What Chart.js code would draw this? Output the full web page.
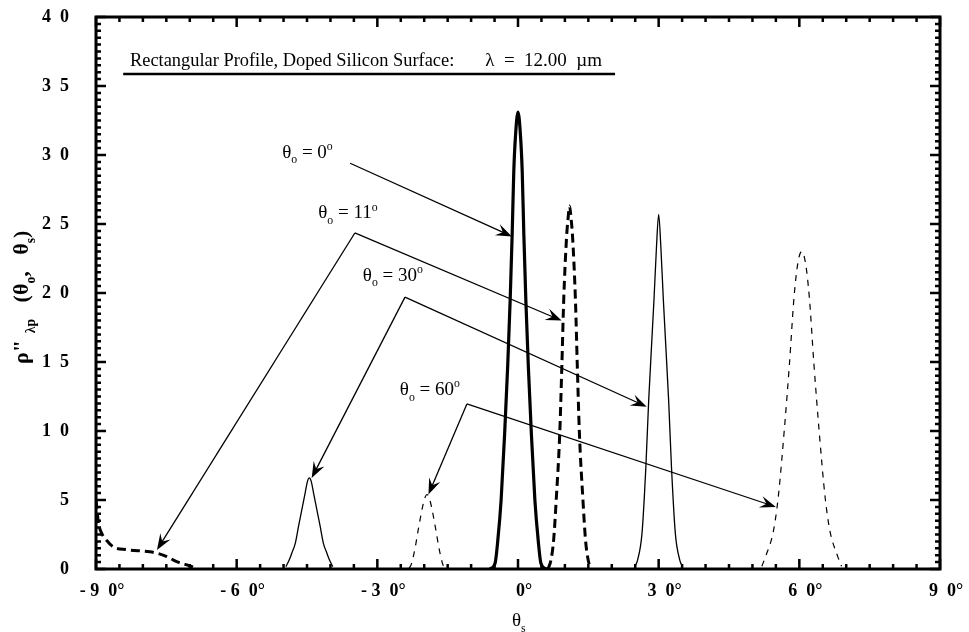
<!DOCTYPE html>
<html>
<head>
<meta charset="utf-8">
<script src="https://cdn.jsdelivr.net/npm/chart.js@4.4.1/dist/chart.umd.min.js"></script>
<style>
  html, body { margin: 0; padding: 0; background: #fff; }
  #wrap { width: 969px; height: 632px; position: relative; }
</style>
</head>
<body>
<div id="wrap"><canvas id="chart"></canvas></div>
<script>
// axis ticks (en spaces between digits, as in the original artwork)
const xTickValues = [-90, -60, -30, 0, 30, 60, 90]
const xTickLabels = ['- 9\u20020°', '- 6\u20020°', '- 3\u20020°', '0°', '3\u20020°', '6\u20020°', '9\u20020°']
const yTickValues = [0, 5, 10, 15, 20, 25, 30, 35, 40]
const yTickLabels = ['0', '5', '1\u20020', '1\u20025', '2\u20020', '2\u20025', '3\u20020', '3\u20025', '4\u20020']

// theta_o = 0 (thick solid)
const t0Angles = [-6, -4.9, -4.3, -3.6, -2.85, -2.2, -1.67, -1.24, -0.9, -0.55, 0, 0.55, 0.9, 1.24, 1.67, 2.2, 2.85, 3.6, 4.3, 4.9, 6]
const t0Values = [0, 0.4, 2.1, 5.0, 9.8, 14.7, 19.5, 24.3, 28.8, 31.3, 33.1, 31.3, 28.8, 24.3, 19.5, 14.7, 9.8, 5.0, 2.1, 0.4, 0]

// theta_o = 11 (thick dashed): grazing part and specular peak
const t11BackAngles = [-90, -89.5, -88.8, -87.8, -86.3, -83.4, -78.5, -76.5, -74.9, -72.8, -70.6, -69]
const t11BackValues = [5.0, 3.4, 2.6, 2.1, 1.6, 1.4, 1.25, 1.1, 0.9, 0.53, 0.3, 0.1]
const t11Angles = [6.4, 7.0, 7.6, 8.15, 8.9, 9.35, 9.75, 10.35, 10.65, 11, 11.35, 11.65, 12.25, 12.65, 13.1, 13.85, 14.4, 15.0, 15.6]
const t11Values = [0, 0.6, 2.1, 5.0, 9.8, 14.7, 19.5, 24.0, 25.3, 26.3, 25.3, 24.0, 19.5, 14.7, 9.8, 5.0, 2.1, 0.6, 0]

// theta_o = 30 (thin solid)
const t30LowAngles = [-49.5, -48.8, -48.25, -47.5, -46.8, -46.1, -45.4, -44.9, -44.5, -44.1, -43.6, -42.9, -42.2, -41.5, -40.75, -40.2, -39.5]
const t30LowValues = [0.17, 0.65, 1.14, 1.86, 3.1, 4.3, 5.5, 6.35, 6.6, 6.35, 5.5, 4.3, 3.1, 1.86, 1.14, 0.65, 0.17]
const t30Angles = [24.9, 25.5, 26.45, 27.27, 27.87, 29.0, 29.5, 30, 30.5, 31.0, 32.13, 32.73, 33.55, 34.5, 35.1]
const t30Values = [0.17, 0.65, 2.6, 7.4, 12.2, 19.5, 23.1, 25.7, 23.1, 19.5, 12.2, 7.4, 2.6, 0.65, 0.17]

// theta_o = 60 (thin dashed)
const t60LowAngles = [-23.2, -22.7, -21.9, -21.3, -20.0, -19.4, -18.8, -17.5, -16.9, -16.1, -15.6]
const t60LowValues = [0.05, 0.4, 1.6, 2.8, 5.0, 5.4, 5.0, 2.8, 1.6, 0.4, 0.05]
const t60Angles = [52.0, 52.8, 54.5, 55.5, 56.8, 57.9, 58.87, 59.7, 60.5, 61.3, 62.13, 63.1, 64.2, 65.5, 66.5, 68.2, 69.0]
const t60Values = [0.2, 0.9, 2.8, 5.2, 10.1, 14.9, 19.7, 22.2, 23.0, 22.2, 19.7, 14.9, 10.1, 5.2, 2.8, 0.9, 0.2]

const FONT = '"Liberation Serif", "Times New Roman", serif'

const seg = (angles, values) => angles.map((a, i) => ({ x: a, y: values[i] }))
const join = (...parts) => parts.reduce((acc, p, i) => {
  if (i > 0) acc.push({ x: p[0].x - 1, y: null })
  return acc.concat(p)
}, [])

// labels and arrows, positions given in data units (angle, value)
const annotations = [
  { text: '0', at: [-50.3, 29.8], from: [-35.8, 29.4], to: [[-1.3, 24.1]] },
  { text: '11', at: [-42.6, 25.4], from: [-34.8, 24.35], to: [[-77.0, 1.38], [9.3, 18.0]] },
  { text: '30', at: [-33.1, 20.9], from: [-24.1, 19.7], to: [[-44.0, 6.6], [27.45, 11.76]] },
  { text: '60', at: [-25.2, 12.6], from: [-10.9, 11.96], to: [[-19.1, 5.4], [55.0, 4.5]] }
]

function drawRich (ctx, x, y, parts, size, weight) {
  let cx = x
  parts.forEach(([t, k]) => {
    const small = k === 'sub' || k === 'sup'
    const s = small ? size * 0.62 : size
    const dy = k === 'sub' ? size * 0.3 : k === 'sup' ? -size * 0.42 : 0
    ctx.font = `${weight} ${s}px ${FONT}`
    ctx.fillText(t, cx, y + dy)
    cx += ctx.measureText(t).width
  })
  return cx
}

function arrow (ctx, x0, y0, x1, y1) {
  const ang = Math.atan2(y1 - y0, x1 - x0)
  const dx = Math.cos(ang)
  const dy = Math.sin(ang)
  const L = 16
  const W = 6
  ctx.beginPath()
  ctx.moveTo(x0, y0)
  ctx.lineTo(x1 - dx * 6, y1 - dy * 6)
  ctx.stroke()
  ctx.beginPath()
  ctx.moveTo(x1, y1)
  ctx.lineTo(x1 - dx * L - dy * W, y1 - dy * L + dx * W)
  ctx.lineTo(x1 - dx * L * 0.62, y1 - dy * L * 0.62)
  ctx.lineTo(x1 - dx * L + dy * W, y1 - dy * L - dx * W)
  ctx.closePath()
  ctx.fill()
}

const decorations = {
  id: 'decorations',
  afterDraw (chart) {
    const { ctx, chartArea: a } = chart
    const xs = chart.scales.x
    const ys = chart.scales.y
    const px = v => xs.getPixelForValue(v)
    const py = v => ys.getPixelForValue(v)
    ctx.save()
    ctx.strokeStyle = '#000'
    ctx.fillStyle = '#000'

    // frame
    ctx.lineWidth = 3
    ctx.strokeRect(a.left, a.top, a.right - a.left, a.bottom - a.top)

    // inward ticks
    ctx.lineWidth = 2.5
    ctx.beginPath()
    for (let d = -90; d <= 90; d += 5) {
      const x = px(d)
      const len = d % 30 === 0 ? 10 : 5
      ctx.moveTo(x, a.bottom); ctx.lineTo(x, a.bottom - len)
      ctx.moveTo(x, a.top); ctx.lineTo(x, a.top + len)
    }
    for (let v = 0; v <= 40; v += 0.5) {
      const y = py(v)
      const len = v % 5 === 0 ? 10 : 5
      ctx.moveTo(a.left, y); ctx.lineTo(a.left + len, y)
      ctx.moveTo(a.right, y); ctx.lineTo(a.right - len, y)
    }
    ctx.stroke()

    // heading with underline
    ctx.textBaseline = 'alphabetic'
    ctx.textAlign = 'left'
    drawRich(ctx, px(-82.75), py(36.45), [['Rectangular Profile, Doped Silicon Surface:', '']], 18.4, 'normal')
    drawRich(ctx, px(-7.0), py(36.45), [['λ  =  12.00  µm', '']], 19, 'normal')
    ctx.lineWidth = 2.5
    ctx.beginPath()
    ctx.moveTo(px(-84.2), py(35.87))
    ctx.lineTo(px(20.7), py(35.87))
    ctx.stroke()

    // angle labels with arrows
    ctx.lineWidth = 1.3
    annotations.forEach(an => {
      drawRich(ctx, px(an.at[0]), py(an.at[1]),
        [['θ', ''], ['o', 'sub'], [' = ' + an.text, ''], ['o', 'sup']], 19, 'normal')
      an.to.forEach(t => arrow(ctx, px(an.from[0]), py(an.from[1]), px(t[0]), py(t[1])))
    })

    // x axis title
    const xc = px(0)
    drawRich(ctx, xc - 6, 626, [['θ', ''], ['s', 'sub']], 19, 'normal')

    // y axis title
    ctx.save()
    ctx.translate(28, 364)
    ctx.rotate(-Math.PI / 2)
    drawRich(ctx, 0, 0, [['ρ"', ''], ['  λp', 'sub'], ['   (θ', ''], ['o', 'sub'], [',   θ', ''], ['s', 'sub'], [')', '']], 22, 'bold')
    ctx.restore()

    ctx.restore()
  }
}

const lineStyle = {
  showLine: true,
  pointRadius: 0,
  borderColor: '#000',
  backgroundColor: '#000',
  fill: false,
  spanGaps: false,
  cubicInterpolationMode: 'monotone'
}

new Chart(document.getElementById('chart'), {
  type: 'scatter',
  data: {
    datasets: [
      { ...lineStyle, label: 'θo = 0°', data: seg(t0Angles, t0Values), borderWidth: 3.2 },
      { ...lineStyle, label: 'θo = 11°', data: join(seg(t11BackAngles, t11BackValues), seg(t11Angles, t11Values)), borderWidth: 3, borderDash: [9, 5] },
      { ...lineStyle, label: 'θo = 30°', data: join(seg(t30LowAngles, t30LowValues), seg(t30Angles, t30Values)), borderWidth: 1.3 },
      { ...lineStyle, label: 'θo = 60°', data: join(seg(t60LowAngles, t60LowValues), seg(t60Angles, t60Values)), borderWidth: 1.2, borderDash: [6, 6] }
    ]
  },
  options: {
    responsive: true,
    maintainAspectRatio: false,
    animation: false,
    devicePixelRatio: 1,
    layout: { padding: { top: 17, right: 29, bottom: 0, left: 0 } },
    plugins: {
      legend: { display: false },
      tooltip: { enabled: false }
    },
    scales: {
      x: {
        type: 'linear',
        min: -90,
        max: 90,
        afterBuildTicks: s => { s.ticks = xTickValues.map(v => ({ value: v })) },
        afterFit: s => { s.height = 63; s.paddingLeft = 0; s.paddingRight = 0 },
        ticks: {
          callback: (v, i) => xTickLabels[i],
          font: { family: FONT, size: 18, weight: 'bold' },
          color: '#000',
          padding: 4,
          labelOffset: 6,
          maxRotation: 0,
          autoSkip: false
        },
        grid: { display: false },
        border: { display: false }
      },
      y: {
        type: 'linear',
        min: 0,
        max: 40,
        afterBuildTicks: s => { s.ticks = yTickValues.map(v => ({ value: v })) },
        afterFit: s => { s.width = 96; s.paddingTop = 0; s.paddingBottom = 0 },
        ticks: {
          callback: (v, i) => yTickLabels[i],
          font: { family: FONT, size: 18, weight: 'bold' },
          color: '#000',
          padding: 19,
          autoSkip: false
        },
        grid: { display: false },
        border: { display: false }
      }
    }
  },
  plugins: [decorations]
})
</script>
</body>
</html>
